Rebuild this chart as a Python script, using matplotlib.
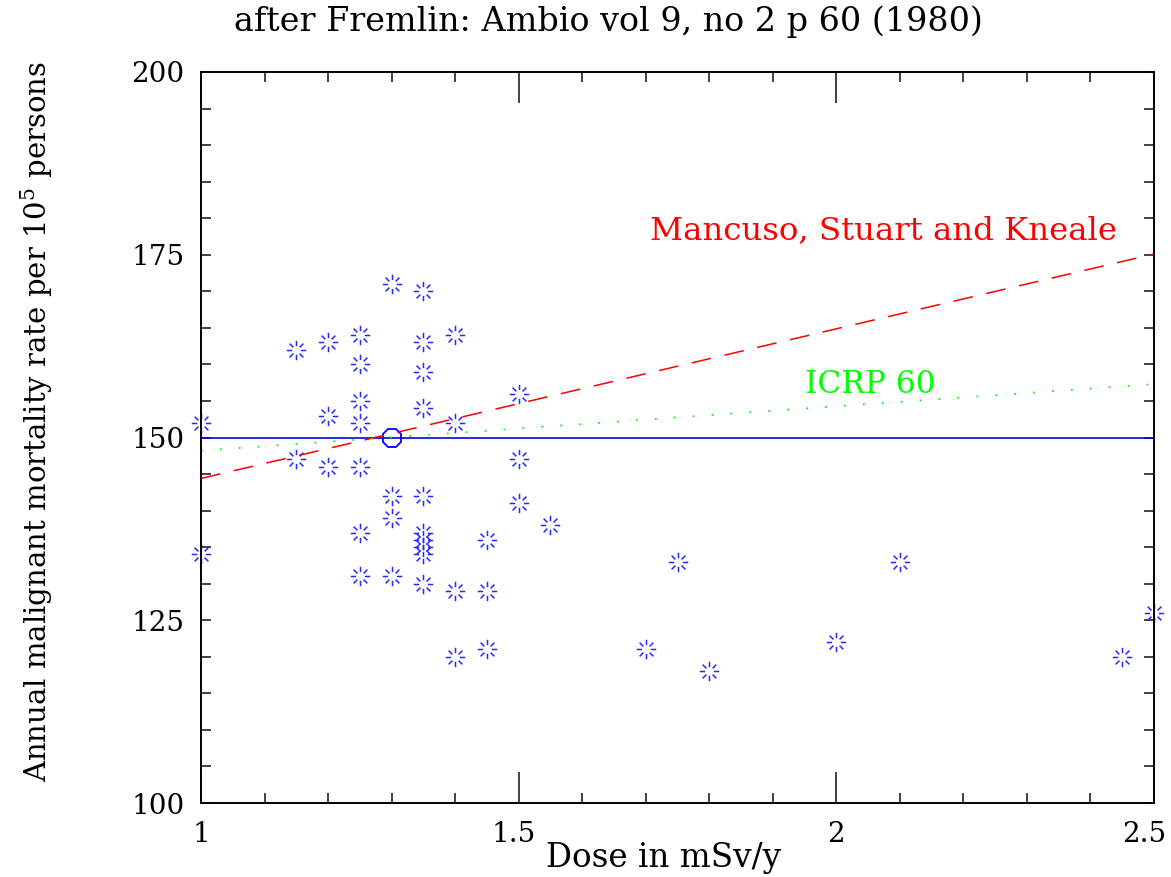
import numpy as np
import matplotlib
matplotlib.use("Agg")
import matplotlib.pyplot as plt
import matplotlib.transforms as mtransforms
from matplotlib.path import Path
from matplotlib.ticker import MultipleLocator

# ---- data ----
dose = [1.0, 1.0,
        1.15, 1.15,
        1.2, 1.2, 1.2,
        1.25, 1.25, 1.25, 1.25, 1.25, 1.25, 1.25,
        1.3, 1.3, 1.3, 1.3,
        1.35, 1.35, 1.35, 1.35, 1.35, 1.35, 1.35, 1.35, 1.35, 1.35,
        1.4, 1.4, 1.4, 1.4,
        1.45, 1.45, 1.45,
        1.5, 1.5, 1.5,
        1.55, 1.7, 1.75, 1.8, 2.0, 2.1, 2.45, 2.5]
rate = [152, 134,
        162, 147,
        163, 153, 146,
        164, 160, 155, 152, 146, 137, 131,
        171, 142, 139, 131,
        170, 163, 159, 154, 142, 137, 136, 135, 134, 130,
        164, 152, 129, 120,
        136, 129, 121,
        156, 147, 141,
        138, 121, 133, 118, 122, 133, 120, 126]

mean_dose = [1.3]
mean_rate = [150]
baseline_y = 150

msk_x = [1.0, 2.5]
msk_y = [144.4, 175.1]
icrp_x = [1.0, 2.5]
icrp_y = [148.2, 157.3]

title = "after Fremlin: Ambio vol 9, no 2 p 60 (1980)"
xlabel = "Dose in mSv/y"
ylabel = r"Annual malignant mortality rate per 10$^5$ persons"
xticks = [1, 1.5, 2, 2.5]
xticklabels = ["1", "1.5", "2", "2.5"]
yticks = [100, 125, 150, 175, 200]
yticklabels = ["100", "125", "150", "175", "200"]

plt.rcParams['font.family'] = ['DejaVu Serif']
plt.rcParams['mathtext.fontset'] = 'dejavuserif'

# star marker with gap in the middle
verts, codes = [], []
for ang in np.arange(0, 360, 45):
    a = np.deg2rad(ang)
    verts += [(0.45 * np.cos(a), 0.45 * np.sin(a)), (np.cos(a), np.sin(a))]
    codes += [Path.MOVETO, Path.LINETO]
star = Path(verts, codes)

fig = plt.figure(figsize=(11.71, 8.77), dpi=100)
ax = fig.add_axes([201/1171, 74/877, (1154-201)/1171, (803-72)/877])

ax.plot(dose, rate, linestyle='none', marker=star, markersize=14,
        markeredgecolor=(0.15, 0.15, 1.0), markeredgewidth=1.1, clip_on=False)
ax.axhline(baseline_y, color='blue', lw=1.2)
ax.plot(mean_dose, mean_rate, linestyle='none', marker='8', markersize=14,
        markerfacecolor='none', markeredgecolor='blue', markeredgewidth=1.3)
ax.plot(msk_x, msk_y, color='red', lw=1.1, linestyle=(0, (13, 9)))
ax.plot(icrp_x, icrp_y, color=(0, 1, 0), lw=1.3, linestyle=(0, (1, 9.5)))

ax.text(1.707, 178.3, "Mancuso, Stuart and Kneale", color='red', fontsize=23.3,
        va='center', ha='left')
ax.text(1.951, 157.3, "ICRP 60", color=(0, 1, 0), fontsize=22.5, va='center', ha='left')

ax.set_xlim(1, 2.5)
ax.set_ylim(100, 200)
ax.set_xticks(xticks)
ax.set_xticklabels(xticklabels)
ax.set_yticks(yticks)
ax.set_yticklabels(yticklabels)
ax.xaxis.set_minor_locator(MultipleLocator(0.1))
ax.yaxis.set_minor_locator(MultipleLocator(5))
ax.tick_params(axis='both', which='both', direction='in', top=True, right=True,
               width=1.3, color='#333333', labelsize=20)
ax.tick_params(axis='x', which='major', length=22, pad=13)
ax.tick_params(axis='x', which='minor', length=7.5)
ax.tick_params(axis='y', which='both', length=7.5)
ax.tick_params(axis='y', which='major', pad=12)
for s in ax.spines.values():
    s.set_linewidth(1.4)

# shift the last x tick label left so it stays inside the figure
lbls = ax.get_xticklabels()
lbls[-1].set_transform(lbls[-1].get_transform() +
                       mtransforms.ScaledTranslation(-10/100, 0, fig.dpi_scale_trans))
lbls[1].set_transform(lbls[1].get_transform() +
                      mtransforms.ScaledTranslation(-5/100, 0, fig.dpi_scale_trans))

fig.text(608/1171, 1 - 22/877, title, ha='center', va='center', fontsize=24)
fig.text(664/1171, 1 - 858/877, xlabel, ha='center', va='center', fontsize=23.5)
fig.text(37/1171, 1 - 422/877, ylabel, ha='center', va='center', fontsize=21, rotation=90)

fig.savefig("out.png", dpi=100)
